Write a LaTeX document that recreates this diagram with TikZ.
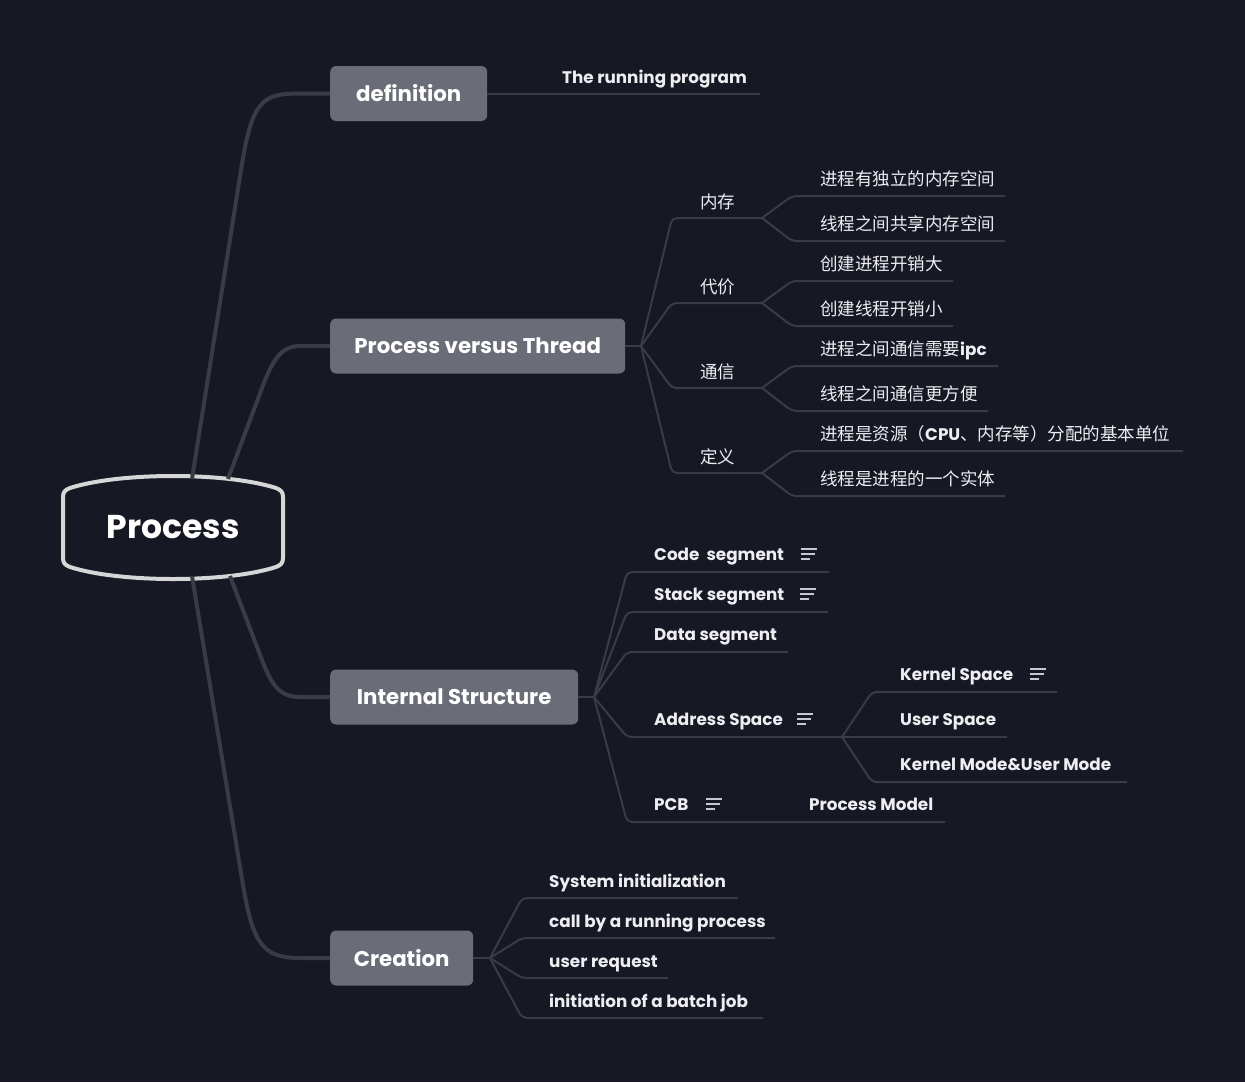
\documentclass[tikz,border=0pt]{standalone}
\usepackage{fontspec}
\setmainfont{Poppins}
\newfontfamily\cjkfam{Noto Sans CJK SC}
\newfontfamily\leaffam{Poppins}
\definecolor{bg}{HTML}{161823}
\definecolor{ln}{HTML}{393B47}
\definecolor{mn}{HTML}{6A6D78}
\definecolor{tx}{HTML}{EEEEF2}
\definecolor{rb}{HTML}{D6D6D6}
\definecolor{ic}{HTML}{C8C8D0}
\newcommand\myMainFont{\fontsize{21.3}{24}\selectfont\bfseries}
\newcommand\myLeafFont{\leaffam\fontsize{16.8}{20}\selectfont\bfseries}
\newcommand\myCjkFont{\cjkfam\fontsize{17.5}{20}\selectfont}
\newcommand\myRootFont{\fontsize{33}{38}\selectfont\bfseries}
\begin{document}
\begin{tikzpicture}[x=1pt,y=-1pt,
  br/.style={draw=ln, line width=4pt},
  sub/.style={draw=ln, line width=2pt, rounded corners=5pt},
  mainnode/.style={fill=mn, rounded corners=6pt, text=white, font=\myMainFont, minimum height=55pt, inner sep=0pt},
  leafL/.style={anchor=base west, text=tx, font=\myLeafFont, inner sep=0pt},
  leafC/.style={anchor=base west, text=tx, font=\myCjkFont, inner sep=0pt},
  noteicon/.pic={\draw[ic, line width=1.4pt] (0,-5)--(16,-5) (0,0)--(14,0) (0,5)--(9,5);}]
\fill[bg] (0,0) rectangle (1245,1082);
\useasboundingbox (0,0) rectangle (1245,1082);

% root shape
\draw[line width=4pt, rb, fill=bg] (70,488) .. controls (120,472) and (226,472) .. (276,488)
  .. controls (281,490) and (283,492) .. (283,497) -- (283,558)
  .. controls (283,563) and (281,565) .. (276,567)
  .. controls (226,583) and (120,583) .. (70,567)
  .. controls (65,565) and (63,563) .. (63,558) -- (63,497)
  .. controls (63,492) and (65,490) .. (70,488) -- cycle;
\node[font=\myRootFont, text=white] (root) at (173,527) {Process};
\coordinate (r1) at (192,479);
\coordinate (r2) at (228,479);
\coordinate (r3) at (230,576);
\coordinate (r4) at (192,576);

% main nodes
\node[mainnode, minimum width=157pt, anchor=west] (def) at (330,93.5) {definition};
\node[mainnode, minimum width=295pt, anchor=west] (pvt) at (330,346) {Process versus Thread};
\node[mainnode, minimum width=248pt, anchor=west] (is) at (330,697) {Internal Structure};
\node[mainnode, minimum width=143pt, anchor=west] (cr) at (330,958) {Creation};

% main branches
\draw[br] (r1) -- (241,170) .. controls (252,100) and (262,93.5) .. (300,93.5) -- (def.west);
\draw[br] (r2) -- (262,388) .. controls (272,362) and (280,346) .. (300,346) -- (pvt.west);
\draw[br] (r3) -- (262,660) .. controls (272,686) and (280,697) .. (300,697) -- (is.west);
\draw[br] (r4) -- (243,885) .. controls (253,943) and (262,958) .. (300,958) -- (cr.west);

% definition
\node[leafL] (trp) at (562,83) {The running program};
\coordinate (trpE) at (760,93.5);
\draw[sub] (def.east) -- (trpE);

% Process versus Thread
\coordinate (J1) at (641,346);
\draw[sub] (pvt.east) -- (J1);
\node[leafC] (nc) at (700,208) {内存};
\node[leafC] (dj) at (700,293) {代价};
\node[leafC] (tx) at (700,378) {通信};
\node[leafC] (dy) at (700,463) {定义};
\coordinate (mA) at (762,218);
\coordinate (mB) at (762,303);
\coordinate (mC) at (762,388);
\coordinate (mD) at (762,473);
\draw[sub] (J1) -- (672,218) -- (mA);
\draw[sub] (J1) -- (672,303) -- (mB);
\draw[sub] (J1) -- (672,388) -- (mC);
\draw[sub] (J1) -- (672,473) -- (mD);

\node[leafC] (a1t) at (820,185) {进程有独立的内存空间};
\node[leafC] (a2t) at (820,230) {线程之间共享内存空间};
\node[leafC] (b1t) at (820,270) {创建进程开销大};
\node[leafC] (b2t) at (820,315) {创建线程开销小};
\node[leafC] (c1t) at (820,355) {进程之间通信需要{\myLeafFont ipc}};
\node[leafC] (c2t) at (820,400) {线程之间通信更方便};
\node[leafC] (d1t) at (820,440) {进程是资源（{\myLeafFont CPU}、内存等）分配的基本单位};
\node[leafC] (d2t) at (820,485) {线程是进程的一个实体};
\coordinate (a1) at (1005,196);
\coordinate (a2) at (1005,241);
\coordinate (b1) at (953,281);
\coordinate (b2) at (953,326);
\coordinate (c1) at (998,366);
\coordinate (c2) at (988,411);
\coordinate (d1) at (1183,451);
\coordinate (d2) at (1005,496);
\draw[sub] (mA) -- (792,196) -- (a1);
\draw[sub] (mA) -- (792,241) -- (a2);
\draw[sub] (mB) -- (792,281) -- (b1);
\draw[sub] (mB) -- (792,326) -- (b2);
\draw[sub] (mC) -- (792,366) -- (c1);
\draw[sub] (mC) -- (792,411) -- (c2);
\draw[sub] (mD) -- (792,451) -- (d1);
\draw[sub] (mD) -- (792,496) -- (d2);

% Internal Structure
\coordinate (J2) at (594,697);
\draw[sub] (is.east) -- (J2);
\node[leafL] (cst) at (654,560) {Code~~segment};
\node[leafL] (sst) at (654,600) {Stack segment};
\node[leafL] (dst) at (654,640) {Data segment};
\node[leafL] (ast) at (654,725) {Address Space};
\node[leafL] (pct) at (654,810) {PCB};
\node[leafL] (pmt) at (809,810) {Process Model};
\pic at (801,554) {noteicon};
\pic at (800,594) {noteicon};
\pic at (797,719) {noteicon};
\pic at (706,804) {noteicon};
\coordinate (cs) at (829,572);
\coordinate (ss) at (828,612);
\coordinate (ds) at (788,652);
\coordinate (asE) at (842,737);
\coordinate (pcE) at (945,822);
\draw[sub] (J2) -- (627,572) -- (cs);
\draw[sub] (J2) -- (627,612) -- (ss);
\draw[sub] (J2) -- (627,652) -- (ds);
\draw[sub] (J2) -- (627,737) -- (asE);
\draw[sub] (J2) -- (627,822) -- (pcE);

\node[leafL] (kst) at (900,680) {Kernel Space};
\node[leafL] (ust) at (900,725) {User Space};
\node[leafL] (kmt) at (900,770) {Kernel Mode\&User Mode};
\pic at (1030,674) {noteicon};
\coordinate (ks) at (1057,692);
\coordinate (us) at (1007,737);
\coordinate (km) at (1127,782);
\draw[sub] (asE) -- (872,692) -- (ks);
\draw[sub] (asE) -- (us);
\draw[sub] (asE) -- (872,782) -- (km);

% Creation
\coordinate (J3) at (490,958);
\draw[sub] (cr.east) -- (J3);
\node[leafL] (s1t) at (549,887) {System initialization};
\node[leafL] (s2t) at (549,927) {call by a running process};
\node[leafL] (s3t) at (549,967) {user request};
\node[leafL] (s4t) at (549,1007) {initiation of a batch job};
\coordinate (s1) at (738,898);
\coordinate (s2) at (775,938);
\coordinate (s3) at (668,978);
\coordinate (s4) at (763,1018);
\draw[sub] (J3) -- (522,898) -- (s1);
\draw[sub] (J3) -- (522,938) -- (s2);
\draw[sub] (J3) -- (522,978) -- (s3);
\draw[sub] (J3) -- (522,1018) -- (s4);
\end{tikzpicture}
\end{document}
